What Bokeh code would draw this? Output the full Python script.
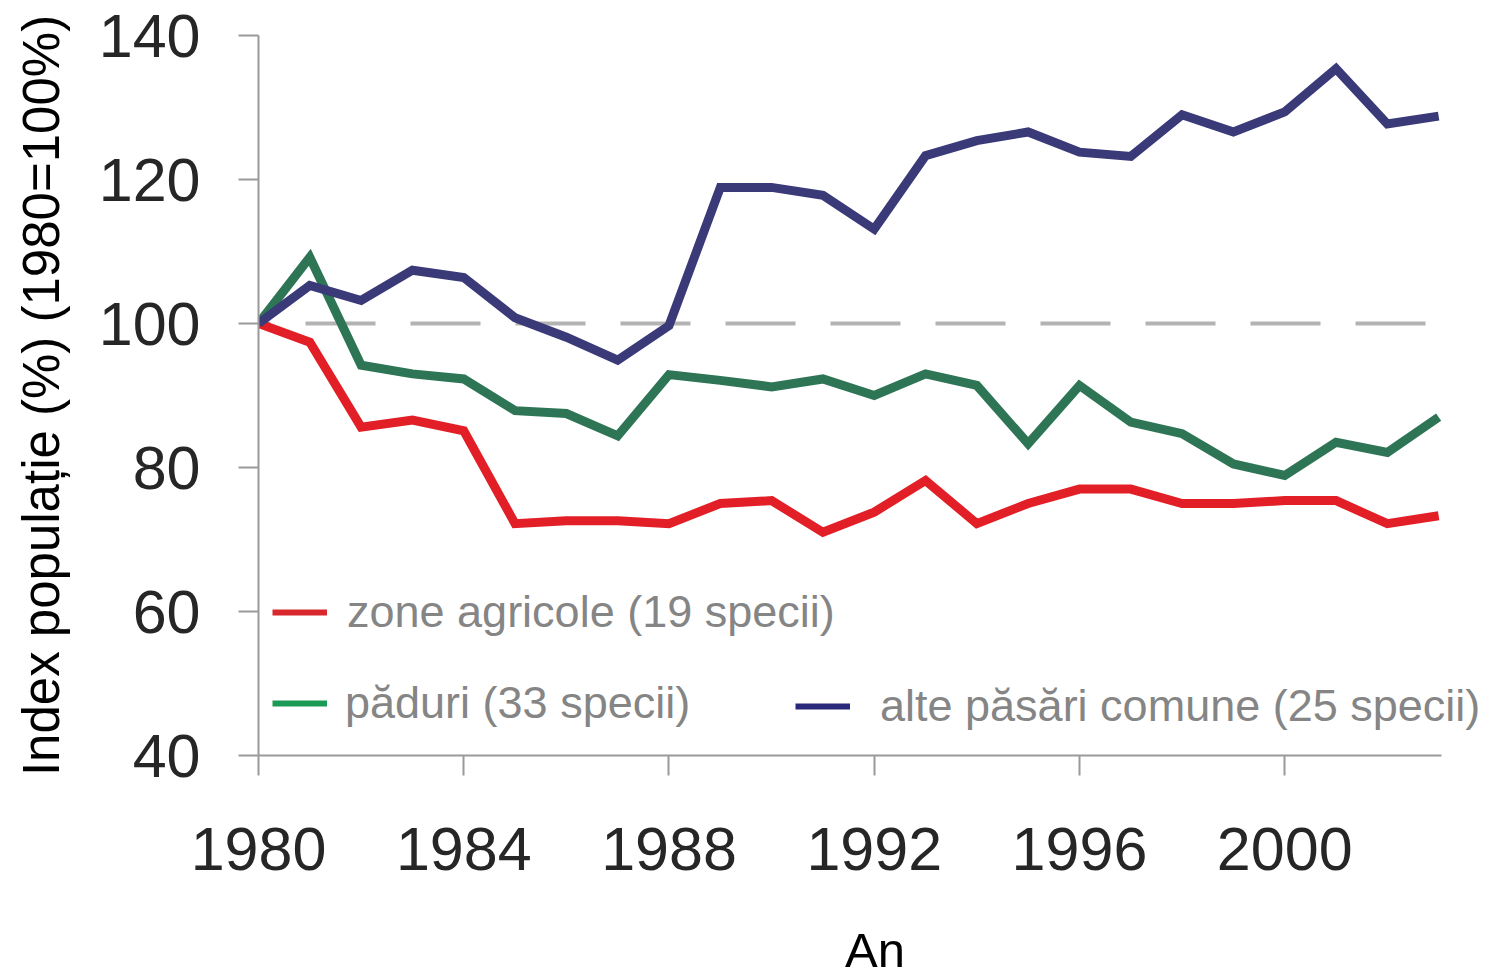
from bokeh.plotting import figure
from bokeh.models import Range1d, FixedTicker, Legend, LegendItem
from bokeh.embed import file_html
from bokeh.resources import INLINE

# ---- data ----
years = [1980, 1981, 1982, 1983, 1984, 1985, 1986, 1987, 1988, 1989, 1990, 1991,
         1992, 1993, 1994, 1995, 1996, 1997, 1998, 1999, 2000, 2001, 2002, 2003]
agricole = [100, 97.4, 85.6, 86.6, 85.1, 72.2, 72.6, 72.6, 72.2, 75.0, 75.4, 71.0,
            73.8, 78.2, 72.2, 75.0, 77.0, 77.0, 75.0, 75.0, 75.4, 75.4, 72.2, 73.3]
paduri = [100, 109.2, 94.2, 93.0, 92.3, 87.9, 87.5, 84.4, 92.9, 92.1, 91.2, 92.3,
          90.0, 93.0, 91.4, 83.3, 91.4, 86.3, 84.7, 80.5, 78.9, 83.5, 82.1, 87.0]
alte = [100, 105.3, 103.2, 107.4, 106.4, 100.8, 98.1, 94.9, 99.7, 118.9, 118.9, 117.8,
        113.1, 123.3, 125.4, 126.6, 123.8, 123.2, 129.0, 126.6, 129.4, 135.4, 127.7, 128.8]
series_labels = ["zone agricole (19 specii)", "păduri (33 specii)",
                 "alte păsări comune (25 specii)"]
x_ticks = [1980, 1984, 1988, 1992, 1996, 2000]
y_ticks = [40, 60, 80, 100, 120, 140]
baseline = 100
x_title = "An"
y_title = "Index populație (%) (1980=100%)"

line_colors = ["#e21f26", "#2e7556", "#3b3a78"]
legend_colors = ["#d8282e", "#1b9a55", "#29287a"]
FONT = "Liberation Sans"

p = figure(width=1491, height=979, output_backend="svg", toolbar_location=None,
           x_range=Range1d(1980, 2004.03), y_range=Range1d(40, 140),
           min_border_left=258, min_border_right=0, min_border_top=35,
           min_border_bottom=224)
p.outline_line_color = None
p.xgrid.visible = False
p.ygrid.visible = False
p.background_fill_color = "white"
p.border_fill_color = "white"

p.xaxis.ticker = FixedTicker(ticks=x_ticks)
p.yaxis.ticker = FixedTicker(ticks=y_ticks)
p.xaxis.bounds = (1979.6, 2003.05)
for ax in (p.xaxis, p.yaxis):
    ax.axis_line_color = "#9a9a9a"
    ax.axis_line_width = 2
    ax.major_tick_line_color = "#9a9a9a"
    ax.major_tick_line_width = 2
    ax.major_tick_out = 20
    ax.major_tick_in = 0
    ax.minor_tick_out = 0
    ax.minor_tick_in = 0
    ax.major_label_text_font = FONT
    ax.major_label_text_font_size = "61px"
    ax.major_label_text_color = "#262626"
    ax.axis_label_text_font = FONT
    ax.axis_label_text_font_style = "normal"
    ax.axis_label_text_color = "#000000"
p.xaxis.major_label_standoff = 52
p.yaxis.major_label_standoff = 38
p.xaxis.axis_label = x_title
p.xaxis.axis_label_text_font_size = "49px"
p.xaxis.axis_label_standoff = 50
p.yaxis.axis_label = y_title
p.yaxis.axis_label_text_font_size = "51px"
p.yaxis.axis_label_standoff = 26

# reference line at 100% across the years shown
p.line([years[0], years[-1]], [baseline, baseline], line_color="#b3b3b3",
       line_width=4, line_dash="70 35", line_dash_offset=58)

r_agri = p.line(years, agricole, line_color=line_colors[0], line_width=9, line_join="miter")
r_pad = p.line(years, paduri, line_color=line_colors[1], line_width=9, line_join="miter")
r_alte = p.line(years, alte, line_color=line_colors[2], line_width=9, line_join="miter")

# legend swatches (proxy renderers with a single NaN point, only for legend colour)
nan = float("nan")
proxies = [p.line(x=[nan], y=[nan], line_color=c, line_width=6) for c in legend_colors]


def add_legend(renderer, label, loc, standoff):
    lg = Legend(items=[LegendItem(label=label, renderers=[renderer])], location=loc,
                orientation="vertical", padding=0, margin=0, spacing=0,
                glyph_width=55, glyph_height=54, label_height=54,
                label_standoff=standoff, label_text_font=FONT,
                label_text_font_size="45px", label_text_color="#858585",
                border_line_alpha=0, background_fill_alpha=0)
    p.add_layout(lg)


add_legend(proxies[0], series_labels[0], (14, 116), 20)
add_legend(proxies[1], series_labels[1], (14, 25), 18)
add_legend(proxies[2], series_labels[2], (537, 22), 30)

open("out.html", "w").write(file_html(p, INLINE))
